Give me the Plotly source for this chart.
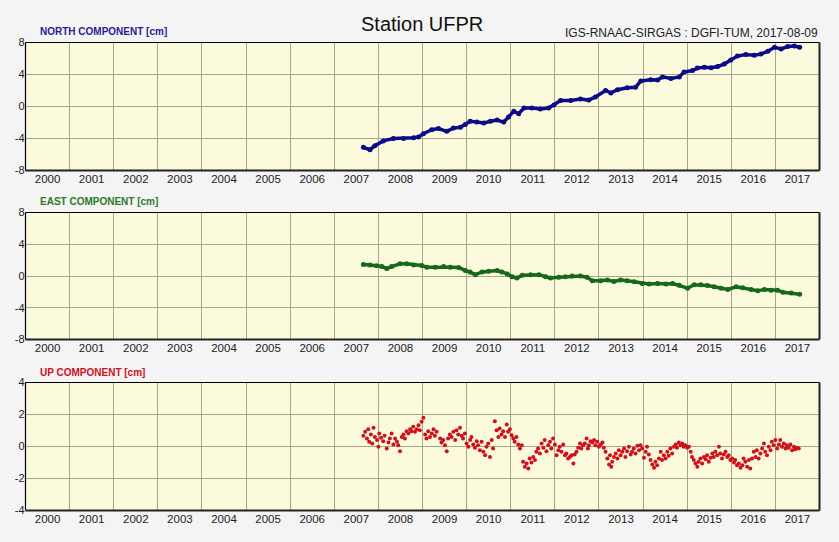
import plotly.graph_objects as go

# ---------------- data ----------------
years_labels = [str(y) for y in range(2000, 2018)]

north_t = [2007.66, 2007.81, 2007.92, 2008.11, 2008.34, 2008.57, 2008.80, 2008.91, 2009.02, 2009.21,
           2009.36, 2009.55, 2009.70, 2009.86, 2009.97, 2010.08, 2010.23, 2010.39, 2010.54, 2010.69,
           2010.84, 2010.95, 2011.07, 2011.18, 2011.30, 2011.48, 2011.67, 2011.86, 2011.98, 2012.13,
           2012.36, 2012.58, 2012.77, 2012.92, 2013.15, 2013.27, 2013.42, 2013.64, 2013.83, 2013.95,
           2014.17, 2014.33, 2014.44, 2014.63, 2014.82, 2014.93, 2015.12, 2015.23, 2015.39, 2015.54,
           2015.69, 2015.84, 2015.99, 2016.14, 2016.33, 2016.52, 2016.67, 2016.83, 2016.98, 2017.13,
           2017.28, 2017.43, 2017.55]
north_v = [-5.1, -5.4, -4.9, -4.3, -4.0, -4.0, -3.9, -3.8, -3.4, -2.9,
           -2.75, -3.1, -2.7, -2.6, -2.25, -1.85, -1.95, -2.05, -1.85, -1.7,
           -1.95, -1.3, -0.6, -0.9, -0.2, -0.2, -0.3, -0.2, 0.2, 0.75,
           0.75, 0.95, 0.8, 1.2, 2.0, 1.7, 2.1, 2.35, 2.4, 3.2,
           3.35, 3.3, 3.7, 3.5, 3.7, 4.3, 4.5, 4.8, 4.9, 4.85,
           5.0, 5.3, 5.8, 6.3, 6.5, 6.4, 6.55, 6.9, 7.4, 7.2,
           7.5, 7.55, 7.4]

east_t = [2007.66, 2007.81, 2007.96, 2008.08, 2008.19, 2008.30, 2008.49, 2008.64, 2008.80, 2008.98,
          2009.10, 2009.29, 2009.48, 2009.63, 2009.82, 2009.97, 2010.08, 2010.20, 2010.35, 2010.50,
          2010.69, 2010.80, 2010.92, 2011.03, 2011.14, 2011.26, 2011.45, 2011.64, 2011.79, 2011.90,
          2012.09, 2012.24, 2012.39, 2012.58, 2012.73, 2012.85, 2013.04, 2013.19, 2013.34, 2013.49,
          2013.64, 2013.80, 2013.98, 2014.14, 2014.33, 2014.52, 2014.67, 2014.82, 2015.01, 2015.16,
          2015.31, 2015.46, 2015.61, 2015.77, 2015.92, 2016.11, 2016.26, 2016.45, 2016.60, 2016.75,
          2016.90, 2017.05, 2017.17, 2017.36, 2017.55]
east_v = [1.45, 1.4, 1.28, 1.19, 0.94, 1.19, 1.53, 1.53, 1.4, 1.32,
          1.1, 1.1, 1.19, 1.1, 1.06, 0.68, 0.51, 0.17, 0.51, 0.6,
          0.68, 0.51, 0.26, -0.09, -0.26, 0.09, 0.17, 0.17, -0.09, -0.26,
          -0.17, -0.09, 0.0, 0.0, -0.17, -0.6, -0.6, -0.51, -0.68, -0.51,
          -0.6, -0.72, -0.94, -1.02, -0.94, -1.02, -0.94, -1.15, -1.53, -1.11,
          -1.11, -1.19, -1.36, -1.53, -1.7, -1.36, -1.49, -1.7, -1.87, -1.7,
          -1.79, -1.79, -2.04, -2.13, -2.3]

up_t = [2007.66, 2007.70, 2007.74, 2007.77, 2007.79, 2007.83, 2007.86, 2007.89, 2007.92, 2007.97,
        2008.00, 2008.02, 2008.06, 2008.11, 2008.14, 2008.19, 2008.23, 2008.26, 2008.30, 2008.34,
        2008.38, 2008.42, 2008.45, 2008.49, 2008.53, 2008.57, 2008.60, 2008.64, 2008.68, 2008.72,
        2008.75, 2008.79, 2008.83, 2008.87, 2008.91, 2008.94, 2008.98, 2009.02, 2009.06, 2009.09,
        2009.13, 2009.17, 2009.21, 2009.25, 2009.28, 2009.32, 2009.40, 2009.43, 2009.47, 2009.51,
        2009.55, 2009.58, 2009.62, 2009.66, 2009.70, 2009.74, 2009.77, 2009.81, 2009.85, 2009.89,
        2009.92, 2009.96, 2010.00, 2010.04, 2010.08, 2010.11, 2010.15, 2010.19, 2010.23, 2010.26,
        2010.30, 2010.34, 2010.38, 2010.42, 2010.45, 2010.49, 2010.53, 2010.57, 2010.60, 2010.64,
        2010.68, 2010.72, 2010.75, 2010.79, 2010.83, 2010.87, 2010.91, 2010.94, 2010.98, 2011.02,
        2011.06, 2011.09, 2011.13, 2011.17, 2011.21, 2011.25, 2011.28, 2011.32, 2011.36, 2011.40,
        2011.43, 2011.47, 2011.51, 2011.55, 2011.58, 2011.62, 2011.66, 2011.70, 2011.74, 2011.77,
        2011.81, 2011.85, 2011.89, 2011.92, 2011.96, 2012.00, 2012.04, 2012.08, 2012.11, 2012.15,
        2012.19, 2012.23, 2012.26, 2012.30, 2012.34, 2012.38, 2012.42, 2012.45, 2012.49, 2012.53,
        2012.57, 2012.60, 2012.64,
        2012.68, 2012.72, 2012.75, 2012.77, 2012.81, 2012.85, 2012.89, 2012.92, 2012.96, 2013.00,
        2013.04, 2013.08, 2013.11, 2013.15, 2013.19, 2013.23, 2013.25, 2013.28, 2013.30, 2013.34,
        2013.38, 2013.42, 2013.45, 2013.49, 2013.53, 2013.57, 2013.60, 2013.64, 2013.68, 2013.72,
        2013.75, 2013.79, 2013.83, 2013.87, 2013.91, 2013.94, 2013.98, 2014.02, 2014.06, 2014.09,
        2014.13, 2014.17, 2014.21, 2014.25, 2014.28, 2014.32, 2014.36, 2014.40, 2014.43, 2014.47,
        2014.51, 2014.55, 2014.58, 2014.62, 2014.66, 2014.70, 2014.74, 2014.77, 2014.81, 2014.85,
        2014.89, 2014.92, 2014.96, 2015.00, 2015.04, 2015.08, 2015.11, 2015.15, 2015.19, 2015.23,
        2015.26, 2015.30, 2015.34, 2015.38, 2015.42, 2015.45, 2015.49, 2015.53, 2015.57, 2015.60,
        2015.64, 2015.68, 2015.72, 2015.75, 2015.79, 2015.83, 2015.87, 2015.91, 2015.94, 2015.98,
        2016.02, 2016.06, 2016.09, 2016.13, 2016.17, 2016.21, 2016.25, 2016.28, 2016.32, 2016.36,
        2016.40, 2016.43, 2016.47, 2016.51, 2016.55, 2016.58, 2016.62, 2016.66, 2016.70, 2016.74,
        2016.77, 2016.81, 2016.85, 2016.89, 2016.92, 2016.96, 2017.00, 2017.04, 2017.08, 2017.11,
        2017.15, 2017.19, 2017.23, 2017.26, 2017.30, 2017.34, 2017.38, 2017.42, 2017.45, 2017.49,
        2017.53]
up_v = [0.67, 0.92, 0.5, 1.08, 0.29, 0.75, 0.19, 1.17, 0.6, 0.4,
        -0.02, 0.81, 0.54, 0.33, 0.67, -0.13, 0.25, 0.5, 0.81, 0.13,
        0.5, 0.29, 0.08, -0.29, 0.6, 0.75, 0.5, 0.96, 0.81, 1.08,
        0.96, 1.23, 0.92, 1.08, 1.33, 1.02, 1.54, 1.79, 0.75, 0.5,
        0.96, 0.6, 0.81, 1.08, 0.67, 0.92, 0.5, 0.25, 0.4, 0.08,
        -0.29, 0.5, 0.75, 0.6, 0.92, 0.4, 1.02, 0.75, 1.17, 0.67,
        0.5, 0.81, 0.19, -0.02, 0.4, 0.6, 0.13, -0.08, 0.33, 0.08,
        -0.23, 0.29, -0.33, -0.54, -0.02, 0.19, -0.65, 0.4, -0.13, 1.58,
        1.02, 0.6, 1.13, 0.75, 0.96, 0.6, 1.38, 0.92, 1.08, 0.71,
        0.5, 0.29, 0.6, 0.13, -0.13, 0.08, -0.96, -1.27, -1.06, -1.38,
        -0.75, -1.0, -0.65, -0.85, -0.33, -0.13, -0.44, 0.19, -0.08, 0.4,
        -0.29, 0.08, 0.29, -0.13, 0.5, 0.13, -0.54, -0.23, -0.02, -0.33,
        0.13, -0.54, -0.44, -0.75, -0.65, -0.54, -1.06, -0.5, -0.33, -0.08,
        0.19, -0.13, 0.08,
        0.19, 0.5, -0.13, 0.08, 0.33, 0.25, 0.4, 0.08, 0.29, -0.02,
        0.13, 0.25, -0.08, -0.33, -0.75, -1.13, -0.54, -1.27, -0.96, -0.65,
        -0.44, -0.75, -0.23, -0.54, -0.33, -0.13, -0.65, -0.29, -0.02, -0.5,
        -0.33, -0.13, -0.44, 0.04, -0.23, 0.08, -0.13, -0.71, -0.33, -0.02,
        -0.5, -0.85, -1.13, -1.33, -0.96, -1.17, -0.75, -0.33, -0.85, -0.54,
        -0.75, -0.33, -0.58, -0.13, -0.44, -0.02, 0.13, -0.08, 0.25, 0.08,
        0.19, -0.02, 0.08, -0.08, -0.02, -0.33, -0.65, -0.85, -1.06, -1.27,
        -0.96, -0.75, -1.06, -0.65, -0.79, -0.54, -0.96, -0.71, -0.44, -0.65,
        -0.33, -0.54, -0.02, -0.44, -0.75, -0.5, -0.33, -0.65, -0.54, -0.85,
        -0.75, -1.0, -0.85, -1.17, -1.06, -1.33, -1.17, -0.75, -0.96, -1.27,
        -0.85, -1.38, -0.75, -0.33, -0.65, -0.23, -0.75, -0.44, -0.13, 0.19,
        -0.33, -0.54, -0.02, -0.23, 0.29, 0.08, 0.4, -0.13, 0.13, 0.4,
        -0.02, 0.19, -0.13, 0.08, -0.08, 0.13, -0.23, -0.02, -0.17, -0.08,
        -0.13]

panel_titles = ["NORTH COMPONENT [cm]", "EAST COMPONENT [cm]", "UP COMPONENT [cm]"]
y_ticks = [[-8, -4, 0, 4, 8], [-8, -4, 0, 4, 8], [-4, -2, 0, 2, 4]]

# ---------------- styling ----------------
W, H = 839, 542
BG = "#f4f4f4"
PLOT_BG = "#fbfadc"
GRID = "#a8a68a"
FONT = "Liberation Sans, Arial, sans-serif"
title_colors = ["#2b1b96", "#2a7a2a", "#d0101c"]
mark_colors = ["#0b0b8a", "#16681a", "#d0101a"]

x0, x1 = 25.5 / W, 819.5 / W
panels_px = [(42.5, 170.5), (212.5, 339.5), (382.5, 510.5)]
domains = [[1 - b / H, 1 - t / H] for (t, b) in panels_px]

fig = go.Figure()

series = [(north_t, north_v), (east_t, east_v)]
for i, (t, v) in enumerate(series):
    fig.add_trace(go.Scatter(
        x=t, y=v, mode="lines+markers",
        line=dict(color=mark_colors[i], width=3.5),
        marker=dict(color=mark_colors[i], size=5),
        xaxis="x" if i == 0 else f"x{i+1}", yaxis="y" if i == 0 else f"y{i+1}",
        showlegend=False, hoverinfo="skip"))

fig.add_trace(go.Scatter(
    x=up_t, y=up_v, mode="markers",
    marker=dict(color=mark_colors[2], size=4),
    xaxis="x3", yaxis="y3", showlegend=False, hoverinfo="skip"))

layout = dict(
    width=W, height=H, margin=dict(l=0, r=0, t=0, b=0, autoexpand=False),
    paper_bgcolor=BG, plot_bgcolor=PLOT_BG,
    font=dict(family=FONT, size=11, color="#222"),
)

label_pos = [x + 0.5 for x in range(2000, 2018)]
shapes = []
annotations = []
for i in range(3):
    sx = "" if i == 0 else str(i + 1)
    yr = y_ticks[i]
    layout[f"xaxis{sx}"] = dict(
        domain=[x0, x1], range=[2000, 2018], anchor=f"y{sx}", automargin=False,
        tickmode="array", tickvals=label_pos, ticktext=years_labels,
        showgrid=False, zeroline=False, ticks="", showline=False,
        tickfont=dict(size=11.5, color="#222"),
        minor=dict(tickmode="array", tickvals=list(range(2001, 2018)),
                   showgrid=True, gridcolor=GRID, gridwidth=1, ticks=""),
    )
    layout[f"yaxis{sx}"] = dict(
        domain=domains[i], range=[yr[0], yr[-1]], anchor=f"x{sx}", automargin=False,
        tickmode="array", tickvals=yr, ticktext=[str(v) for v in yr],
        showgrid=True, gridcolor=GRID, gridwidth=1, zeroline=False,
        ticks="", showline=False, tickfont=dict(size=11, color="#222"),
    )
    d = domains[i]
    shapes.append(dict(type="line", xref="paper", yref="paper", x0=x0, x1=x1, y0=d[1], y1=d[1],
                       line=dict(color="#000", width=1.2)))
    shapes.append(dict(type="line", xref="paper", yref="paper", x0=x0, x1=x0, y0=d[0], y1=d[1],
                       line=dict(color="#000", width=1.2)))
    shapes.append(dict(type="line", xref="paper", yref="paper", x0=x1, x1=x1, y0=d[0], y1=d[1],
                       line=dict(color="#222", width=2)))
    shapes.append(dict(type="line", xref="paper", yref="paper", x0=x0, x1=x1, y0=d[0], y1=d[0],
                       line=dict(color="#222", width=2)))
    annotations.append(dict(
        text=f"<b>{panel_titles[i]}</b>", xref="paper", yref="paper",
        x=38 / W, y=d[1] + 3 / H, xanchor="left", yanchor="bottom", showarrow=False,
        font=dict(size=10, color=title_colors[i], family=FONT)))

annotations.append(dict(text="Station UFPR", xref="paper", yref="paper",
                        x=422 / W, y=1 - 24 / H, xanchor="center", yanchor="middle",
                        showarrow=False, font=dict(size=20, color="#111", family=FONT)))
annotations.append(dict(text="IGS-RNAAC-SIRGAS : DGFI-TUM, 2017-08-09", xref="paper", yref="paper",
                        x=820 / W, y=1 - 33 / H, xanchor="right", yanchor="middle",
                        showarrow=False, font=dict(size=12, color="#222", family=FONT)))

layout["shapes"] = shapes
layout["annotations"] = annotations
fig.update_layout(**layout)
fig.write_html("out.html", config={"displayModeBar": False},
               post_script="document.body.style.margin='0';document.body.style.overflow='hidden';")
